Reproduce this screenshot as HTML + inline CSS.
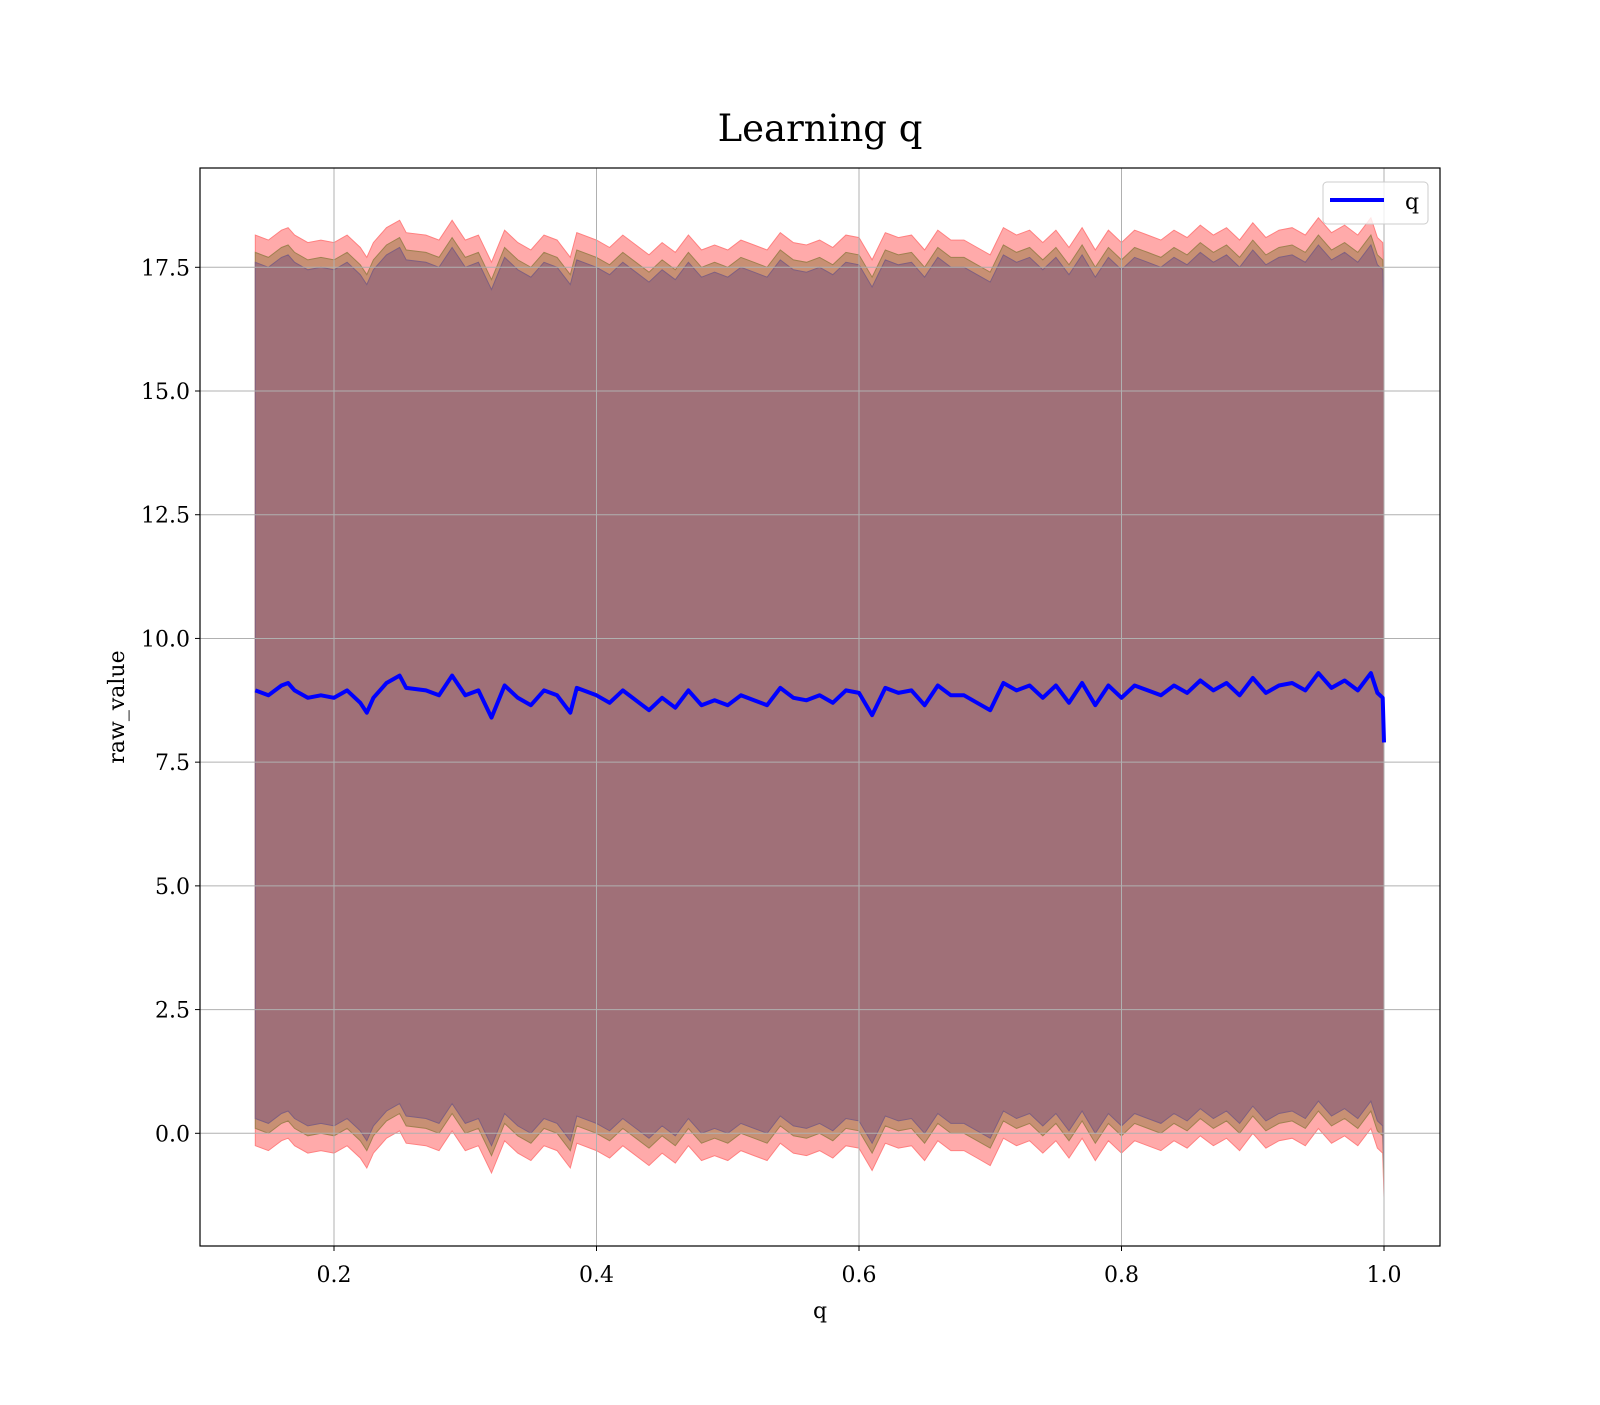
<!DOCTYPE html>
<html><head><meta charset="utf-8"><style>
html,body{margin:0;padding:0;background:#fff;}
svg text{font-family:"DejaVu Serif","Liberation Serif",serif;fill:#000;}
</style></head><body>
<svg id="chart" width="1600" height="1400" xmlns="http://www.w3.org/2000/svg">
<rect width="1600" height="1400" fill="#fff"/>
<g id="bands"></g>
<g id="grid"></g>
<g id="line"></g>
<rect x="200" y="168" width="1240" height="1078" fill="none" stroke="#000" stroke-width="1.2"/>
<g id="ticks"></g>
<text x="820" y="141" font-size="37" text-anchor="middle">Learning q</text>
<text x="820" y="1318" font-size="22" text-anchor="middle">q</text>
<text x="124" y="707" font-size="22" text-anchor="middle" transform="rotate(-90 124 707)">raw_value</text>
<g>
<rect x="1323" y="182" width="105" height="42" rx="4" fill="#fff" fill-opacity="0.8" stroke="#ccc"/>
<line x1="1330" y1="200" x2="1384" y2="200" stroke="#0000ff" stroke-width="4"/>
<text x="1405" y="209" font-size="22">q</text>
</g>
</svg>
<script>
const qVals=[0.14,0.15,0.16,0.165,0.17,0.18,0.19,0.2,0.21,0.22,0.225,0.23,0.24,0.25,0.255,0.27,0.28,0.29,0.30,0.31,0.32,0.33,0.34,0.35,0.36,0.37,0.38,0.385,0.40,0.41,0.42,0.43,0.44,0.45,0.46,0.47,0.48,0.49,0.50,0.51,0.52,0.53,0.54,0.55,0.56,0.57,0.58,0.59,0.60,0.61,0.62,0.63,0.64,0.65,0.66,0.67,0.68,0.69,0.70,0.71,0.72,0.73,0.74,0.75,0.76,0.77,0.78,0.79,0.80,0.81,0.82,0.83,0.84,0.85,0.86,0.87,0.88,0.89,0.90,0.91,0.92,0.93,0.94,0.95,0.96,0.97,0.98,0.99,0.995,0.999,1.0];
const meanVals=[8.95,8.85,9.05,9.1,8.95,8.8,8.85,8.8,8.95,8.7,8.5,8.8,9.1,9.25,9.0,8.95,8.85,9.25,8.85,8.95,8.4,9.05,8.8,8.65,8.95,8.85,8.5,9.0,8.85,8.7,8.95,8.75,8.55,8.8,8.6,8.95,8.65,8.75,8.65,8.85,8.75,8.65,9.0,8.8,8.75,8.85,8.7,8.95,8.9,8.45,9.0,8.9,8.95,8.65,9.05,8.85,8.85,8.7,8.55,9.1,8.95,9.05,8.8,9.05,8.7,9.1,8.65,9.05,8.8,9.05,8.95,8.85,9.05,8.9,9.15,8.95,9.1,8.85,9.2,8.9,9.05,9.1,8.95,9.3,9.0,9.15,8.95,9.3,8.9,8.8,7.9];
const bandNames=["red","orange","purple"];
const bandHalfWidths=[9.2,8.85,8.65];
const bandFills=["#ffaaaa","#c89074","#a07078"];
const bandEdges=["#ff8080","#a08050","#806080"];
const xTicks=[0.2,0.4,0.6,0.8,1.0];
const yTicks=[0,2.5,5,7.5,10,12.5,15,17.5];
const yTickLabels=["0.0","2.5","5.0","7.5","10.0","12.5","15.0","17.5"];
const xTickLabels=["0.2","0.4","0.6","0.8","1.0"];
const X=v=>71.5+v*1312.5;
const Y=v=>1133.3-v*49.486;
const NS="http://www.w3.org/2000/svg";
function mk(t,parent){const e=document.createElementNS(NS,t);parent.appendChild(e);return e;}
const gb=document.getElementById('bands');
bandHalfWidths.forEach((hw,i)=>{
  let up=qVals.map((q,j)=>X(q).toFixed(1)+','+Y(meanVals[j]+hw).toFixed(1));
  let lo=qVals.map((q,j)=>X(q).toFixed(1)+','+Y(meanVals[j]-hw).toFixed(1)).reverse();
  const p=mk('polygon',gb);
  p.setAttribute('points',up.concat(lo).join(' '));
  p.setAttribute('fill',bandFills[i]);
  p.setAttribute('stroke',bandEdges[i]);
  p.setAttribute('stroke-width','1');
  
  
});
const gg=document.getElementById('grid');
const gt=document.getElementById('ticks');
xTicks.forEach((t,i)=>{
  const l=mk('line',gg);
  l.setAttribute('x1',X(t));l.setAttribute('x2',X(t));l.setAttribute('y1',168);l.setAttribute('y2',1246);
  l.setAttribute('stroke','#b0b0b0');l.setAttribute('stroke-width','1');
  
  
  const k=mk('line',gt);
  k.setAttribute('x1',X(t));k.setAttribute('x2',X(t));k.setAttribute('y1',1246);k.setAttribute('y2',1251);k.setAttribute('stroke','#000');
  
  
  const tx=mk('text',gt);
  tx.setAttribute('x',X(t));tx.setAttribute('y',1282);tx.setAttribute('font-size','22');tx.setAttribute('text-anchor','middle');
  tx.textContent=xTickLabels[i];
  
  
});
yTicks.forEach((t,i)=>{
  const l=mk('line',gg);
  l.setAttribute('x1',200);l.setAttribute('x2',1440);l.setAttribute('y1',Y(t));l.setAttribute('y2',Y(t));
  l.setAttribute('stroke','#b0b0b0');l.setAttribute('stroke-width','1');
  
  
  const k=mk('line',gt);
  k.setAttribute('x1',195);k.setAttribute('x2',200);k.setAttribute('y1',Y(t));k.setAttribute('y2',Y(t));k.setAttribute('stroke','#000');
  
  
  const tx=mk('text',gt);
  tx.setAttribute('x',190);tx.setAttribute('y',Y(t)+8);tx.setAttribute('font-size','22');tx.setAttribute('text-anchor','end');
  tx.textContent=yTickLabels[i];
  
  
});
const gl=document.getElementById('line');
const pl=mk('polyline',gl);
pl.setAttribute('points',qVals.map((q,j)=>X(q).toFixed(1)+','+Y(meanVals[j]).toFixed(1)).join(' '));
pl.setAttribute('fill','none');pl.setAttribute('stroke','#0000ff');pl.setAttribute('stroke-width','4');pl.setAttribute('stroke-linejoin','round');


</script>
</body></html>
